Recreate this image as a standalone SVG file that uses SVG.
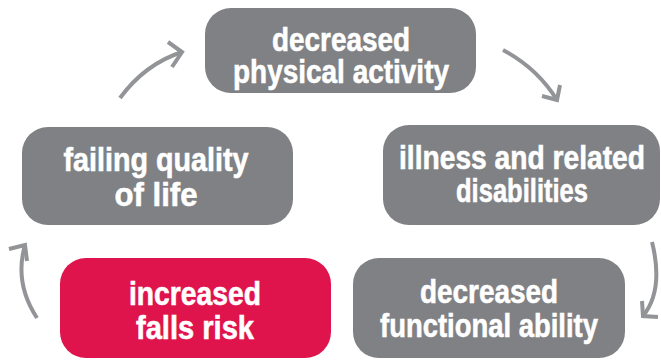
<svg xmlns="http://www.w3.org/2000/svg" width="661" height="362" viewBox="0 0 661 362">
<defs>
<style>
.box{fill:#808184}
.red{fill:#df144c}
.t{font-family:"Liberation Sans Narrow","Liberation Sans",Arial,sans-serif;font-weight:bold;font-size:34px;fill:#fff;stroke:#fff;stroke-width:0.6;text-anchor:middle}
.c{fill:none;stroke:#929497;stroke-width:4;stroke-linecap:butt;stroke-linejoin:miter}
</style>
</defs>
<rect width="661" height="362" fill="#fff"/>
<g id="connectors">
<path class="c" d="M120 98 Q145 64 182 52"/>
<path class="c" d="M168 42 L182 52 L172 67"/>
<path class="c" d="M503 50 Q537 68 557 100"/>
<path class="c" d="M560 85 L557 100 L542 96"/>
<path class="c" d="M652 242 Q664 290 643 316"/>
<path class="c" d="M642 301 L643 316 L658 317"/>
<path class="c" d="M37 318 Q14 283 25 245"/>
<path class="c" d="M9 249 L25 245 L27 261"/>
</g>
<g id="n1">
<rect class="box" x="205" y="8" width="271" height="85" rx="26"/>
<text class="t" x="341" y="51" textLength="138" lengthAdjust="spacingAndGlyphs">decreased</text>
<text class="t" x="341" y="83" textLength="216" lengthAdjust="spacingAndGlyphs">physical activity</text>
</g>
<g id="n2">
<rect class="box" x="383" y="125" width="277" height="100" rx="26"/>
<text class="t" x="522" y="169" textLength="246" lengthAdjust="spacingAndGlyphs">illness and related</text>
<text class="t" x="522" y="202" textLength="132" lengthAdjust="spacingAndGlyphs">disabilities</text>
</g>
<g id="n3">
<rect class="box" x="22" y="127" width="271" height="98" rx="26"/>
<text class="t" x="156" y="171" textLength="185" lengthAdjust="spacingAndGlyphs">failing quality</text>
<text class="t" x="156" y="206" textLength="83" lengthAdjust="spacingAndGlyphs">of life</text>
</g>
<g id="n4">
<rect class="red" x="60" y="258" width="271" height="100" rx="26"/>
<text class="t" x="195" y="305" textLength="132" lengthAdjust="spacingAndGlyphs">increased</text>
<text class="t" x="195" y="339" textLength="118" lengthAdjust="spacingAndGlyphs">falls risk</text>
</g>
<g id="n5">
<rect class="box" x="353" y="258" width="272" height="100" rx="26"/>
<text class="t" x="489" y="303" textLength="138" lengthAdjust="spacingAndGlyphs">decreased</text>
<text class="t" x="489" y="337" textLength="218" lengthAdjust="spacingAndGlyphs">functional ability</text>
</g>
</svg>
